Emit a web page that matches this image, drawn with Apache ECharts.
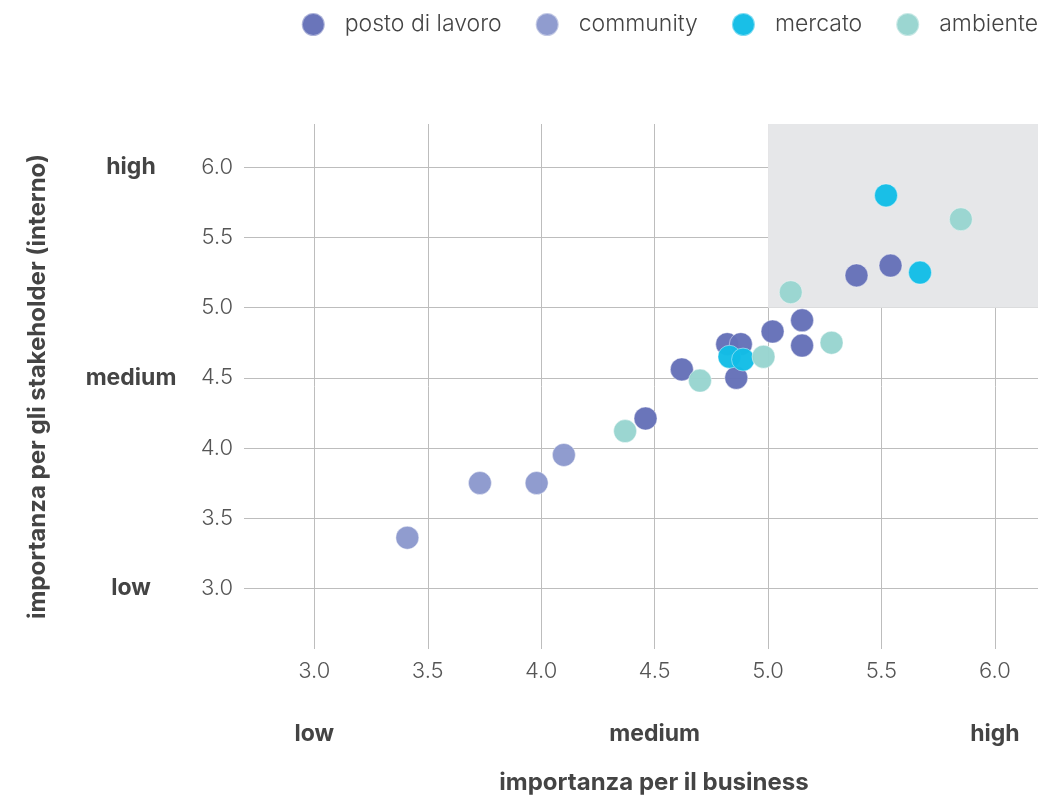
<!DOCTYPE html>
<html>
<head>
<meta charset="utf-8">
<script src="https://cdn.jsdelivr.net/npm/echarts@6/dist/echarts.min.js"></script>
<style>
  html, body { margin: 0; padding: 0; background: #fff; }
  #chart { width: 1060px; height: 797px; }
</style>
</head>
<body>
<div id="chart"></div>
<script>
// Materiality matrix: importance for the business (x) vs. for internal stakeholders (y)
const seriesNames = ['posto di lavoro', 'community', 'mercato', 'ambiente'];
const seriesColors = ['#6571b8', '#8c99cd', '#12bde6', '#98d5cf'];

const postoDiLavoro = [
  [5.39, 5.23], [5.54, 5.30], [5.15, 4.91], [5.02, 4.83], [5.15, 4.73],
  [4.82, 4.74], [4.88, 4.74], [4.86, 4.50], [4.62, 4.56], [4.46, 4.21]
];
const community = [[3.41, 3.36], [3.73, 3.75], [3.98, 3.75], [4.10, 3.95]];
const mercato = [[5.52, 5.80], [5.67, 5.25], [4.83, 4.65], [4.89, 4.63]];
const ambiente = [
  [5.85, 5.63], [5.10, 5.11], [5.28, 4.75], [4.98, 4.65], [4.70, 4.48], [4.37, 4.12]
];

const tickValues = [3.0, 3.5, 4.0, 4.5, 5.0, 5.5, 6.0];
const levelValues = [3.0, 4.5, 6.0];
const levelLabels = ['low', 'medium', 'high'];

const xRange = [2.69, 6.19];
const yRange = [2.567, 6.309];
const priorityCorner = [5.0, 5.0];

const FONT = 'Inter, Lato, sans-serif';

function levelLabel(v) {
  const i = levelValues.findIndex(l => Math.abs(l - v) < 1e-6);
  return i >= 0 ? levelLabels[i] : '';
}

const gridLine = { show: true, lineStyle: { color: '#bdbdbd', width: 1 } };
const tickText = { fontFamily: FONT, fontWeight: 300, fontSize: 22, color: '#555' };
const levelText = { fontFamily: FONT, fontWeight: 'bold', fontSize: 23, color: '#444' };
const nameText = { fontFamily: FONT, fontWeight: 'bold', fontSize: 24, color: '#444' };

const chart = echarts.init(document.getElementById('chart'), null, { renderer: 'canvas' });

const scatterData = [postoDiLavoro, community, mercato, ambiente];

const option = {
  backgroundColor: '#ffffff',
  animation: false,
  legend: {
    data: seriesNames.map(n => ({ name: n, icon: 'circle' })),
    top: 7,
    right: 17,
    itemWidth: 53,
    itemHeight: 23,
    itemGap: 33,
    textStyle: { fontFamily: FONT, fontWeight: 300, fontSize: 23, color: '#444' }
  },
  grid: { left: 244, right: 22, top: 124, bottom: 148, outerBoundsMode: 'none', containLabel: false },
  xAxis: [
    {
      type: 'value', min: xRange[0], max: xRange[1], z: 1,
      axisLine: { show: false }, axisTick: { show: false, customValues: tickValues },
      splitLine: gridLine,
      axisLabel: Object.assign({ customValues: tickValues, margin: 11, formatter: v => v.toFixed(1) }, tickText)
    },
    {
      type: 'value', position: 'bottom', min: xRange[0], max: xRange[1],
      axisLine: { show: false }, axisTick: { show: false, customValues: levelValues },
      splitLine: { show: false },
      axisLabel: Object.assign({ customValues: levelValues, margin: 74, formatter: levelLabel }, levelText),
      name: 'importanza per il business',
      nameLocation: 'middle', nameGap: 122,
      nameTextStyle: Object.assign({ padding: [0, 0, 0, 26] }, nameText)
    }
  ],
  yAxis: [
    {
      type: 'value', min: yRange[0], max: yRange[1], z: 1,
      axisLine: { show: false }, axisTick: { show: false, customValues: tickValues },
      splitLine: gridLine,
      axisLabel: Object.assign({ customValues: tickValues, margin: 11, formatter: v => v.toFixed(1) }, tickText)
    },
    {
      type: 'value', position: 'left', min: yRange[0], max: yRange[1],
      axisLine: { show: false }, axisTick: { show: false, customValues: levelValues },
      splitLine: { show: false },
      axisLabel: Object.assign({ customValues: levelValues, margin: 113, align: 'center', formatter: levelLabel }, levelText),
      name: 'importanza per gli stakeholder (interno)',
      nameLocation: 'middle', nameGap: 194, nameRotate: 90,
      nameTextStyle: nameText
    }
  ],
  series: [
    // shaded high/high quadrant, kept beneath the grid lines
    {
      type: 'scatter', name: '_area', z: 0, silent: true, data: [],
      xAxisIndex: 0, yAxisIndex: 0,
      markArea: {
        silent: true,
        itemStyle: { color: '#e6e7e9' },
        data: [[{ coord: [priorityCorner[0], yRange[1]] }, { coord: [xRange[1], priorityCorner[1]] }]]
      }
    }
  ].concat(seriesNames.map((name, i) => ({
    type: 'scatter',
    name: name,
    z: 3,
    xAxisIndex: 0, yAxisIndex: 0,
    symbol: 'circle',
    symbolSize: 23,
    itemStyle: {
      color: seriesColors[i],
      opacity: 0.97,
      borderColor: 'rgba(255,255,255,0.45)',
      borderWidth: 1
    },
    emphasis: { disabled: true },
    data: scatterData[i]
  })))
};

chart.setOption(option);
</script>
</body>
</html>
